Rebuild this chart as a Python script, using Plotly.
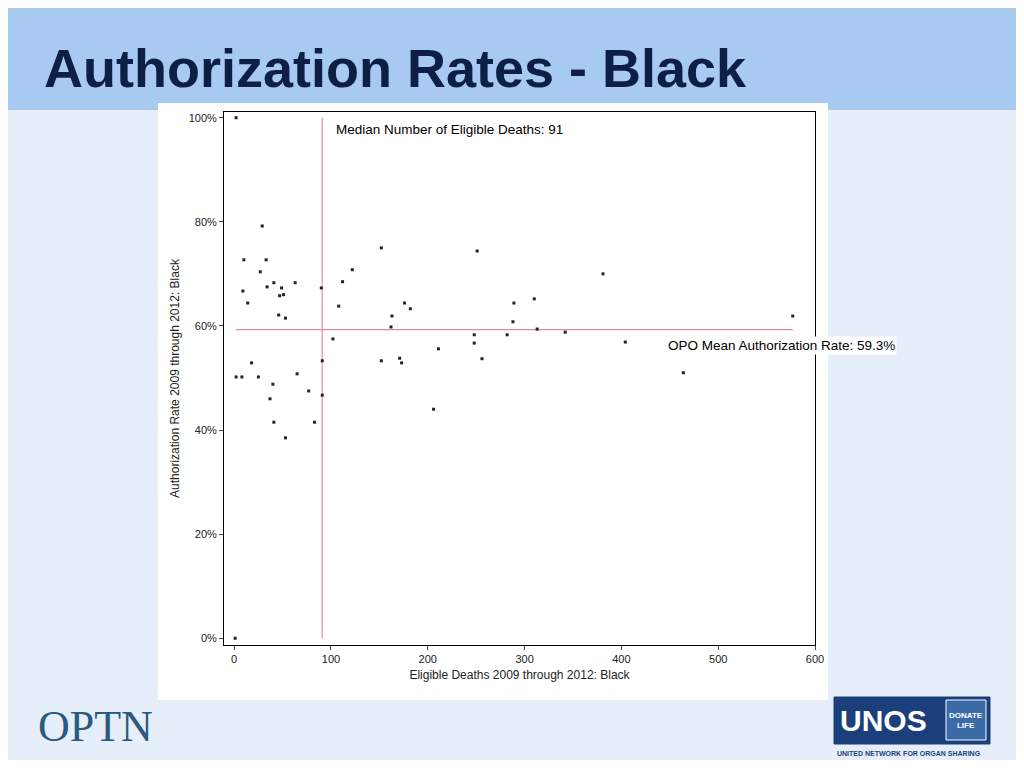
import plotly.graph_objects as go

deaths = [2,1,29,10,33,27,41,63,34,49,9,47,51,14,46,53,90,2,8,18,25,65,40,37,77,41,83,53,91,91,
          102,108,112,122,152,152,163,162,176,182,171,173,211,206,251,248,248,256,282,289,288,310,313,342,381,404,464,577]
rates = [100,0,79.2,72.7,72.7,70.4,68.3,68.3,67.5,67.3,66.7,65.8,66,64.4,62.1,61.5,67.3,50.2,50.2,52.9,50.2,50.8,48.8,46,47.5,41.5,41.5,38.5,53.3,46.7,
         57.5,63.8,68.5,70.8,75,53.3,61.9,59.8,64.4,63.3,53.8,52.9,55.6,44,74.4,58.3,56.7,53.7,58.3,64.4,60.8,65.2,59.4,58.8,70,56.9,51,61.9]
median_deaths = 91
mean_rate = 59.3
yticks = [0,20,40,60,80,100]
ytick_labels = ["0%","20%","40%","60%","80%","100%"]

def fx(sx): return (sx-224)/591
def fy(sy): return (645-sy)/533

fig = go.Figure()
fig.add_trace(go.Scatter(x=deaths, y=rates, mode="markers",
                         marker=dict(color="#222", size=3, symbol="square"), hoverinfo="skip"))
fig.add_shape(type="line", xref="x", yref="y", x0=median_deaths, x1=median_deaths, y0=0, y1=100,
              line=dict(color="#f4a0b0", width=1.5), layer="below")
fig.add_shape(type="line", xref="x", yref="y", x0=2, x1=577, y0=mean_rate, y1=mean_rate,
              line=dict(color="#e08a94", width=1.2), layer="below")
fig.add_shape(type="rect", xref="paper", yref="paper", layer="below",
              x0=fx(0), x1=fx(1024), y0=fy(110), y1=fy(0),
              fillcolor="#a8caf0", line=dict(width=0))
fig.add_shape(type="rect", xref="paper", yref="paper", layer="below",
              x0=fx(158), x1=fx(828), y0=fy(700), y1=fy(103),
              fillcolor="white", line=dict(width=0))
fig.add_annotation(x=median_deaths, y=100, xref="x", yref="y", text="Median Number of Eligible Deaths: 91",
                   showarrow=False, xanchor="left", yanchor="top", xshift=12, yshift=-2,
                   font=dict(size=13.5, color="black", family="Liberation Sans"))
fig.add_annotation(x=fx(666), y=mean_rate, xref="paper", yref="y", text="OPO Mean Authorization Rate: 59.3%",
                   showarrow=False, xanchor="left", yanchor="top", yshift=-6,
                   bgcolor="white", font=dict(size=13.5, color="black", family="Liberation Sans"))
fig.add_annotation(x=fx(42), y=fy(68), xref="paper", yref="paper", text="<b>Authorization Rates - Black</b>",
                   showarrow=False, xanchor="left", yanchor="middle",
                   font=dict(size=54, color="#0d1f44", family="Liberation Sans"))
fig.add_annotation(x=fx(36), y=fy(726), xref="paper", yref="paper", text="OPTN",
                   showarrow=False, xanchor="left", yanchor="middle",
                   font=dict(size=44, color="#2b5a80", family="Liberation Serif"))
fig.add_shape(type="rect", xref="paper", yref="paper", x0=fx(834), x1=fx(990), y0=fy(744), y1=fy(697),
              fillcolor="#1b3f7a", line=dict(color="#1b3f7a", width=1))
fig.add_annotation(x=fx(838), y=fy(720), xref="paper", yref="paper", text="<b>UNOS</b>",
                   showarrow=False, xanchor="left", yanchor="middle",
                   font=dict(size=30, color="white", family="Liberation Sans"))
fig.add_shape(type="rect", xref="paper", yref="paper", x0=fx(946), x1=fx(986), y0=fy(740), y1=fy(700),
              fillcolor="#3a6aa8", line=dict(color="white", width=1))
fig.add_annotation(x=fx(966), y=fy(720), xref="paper", yref="paper", text="<b>DONATE<br>LIFE</b>",
                   showarrow=False, xanchor="center", yanchor="middle",
                   font=dict(size=8, color="white", family="Liberation Sans"))
fig.add_annotation(x=fx(835), y=fy(753), xref="paper", yref="paper", text="<b>UNITED NETWORK FOR ORGAN SHARING</b>",
                   showarrow=False, xanchor="left", yanchor="middle",
                   font=dict(size=7, color="#1b3f7a", family="Liberation Sans"))

fig.update_layout(
    width=1008, height=752, margin=dict(l=216, r=201, t=104, b=115),
    paper_bgcolor="#e6eef9", plot_bgcolor="white", showlegend=False,
    font=dict(family="Liberation Sans", size=11, color="#222"),
)
fig.update_xaxes(range=[-10.5, 600], tickvals=[0,100,200,300,400,500,600], ticks="outside", ticklen=4,
                 showgrid=False, zeroline=False, showline=True, linecolor="black", mirror=True,
                 title=dict(text="Eligible Deaths 2009 through 2012: Black", font=dict(size=12), standoff=6))
fig.update_yaxes(range=[-1.3, 101.1], tickvals=yticks, ticktext=ytick_labels, ticks="outside", ticklen=4,
                 showgrid=False, zeroline=False, showline=True, linecolor="black", mirror=True,
                 title=dict(text="Authorization Rate 2009 through 2012: Black", font=dict(size=12), standoff=6))
fig.write_html("out.html")
